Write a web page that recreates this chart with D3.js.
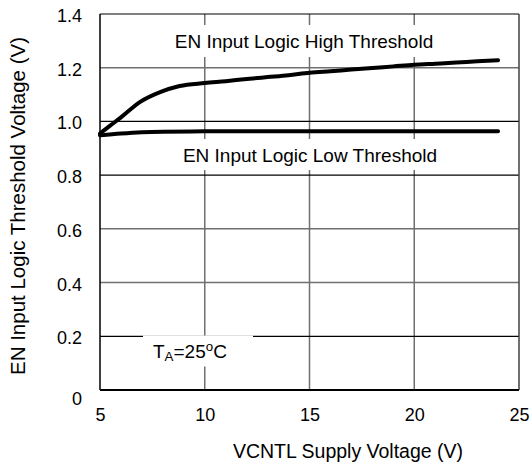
<!DOCTYPE html>
<html>
<head>
<meta charset="utf-8">
<script src="https://cdn.jsdelivr.net/npm/d3@7"></script>
<style>
  html, body { margin: 0; padding: 0; background: #fff; }
  svg { display: block; }
  text { font-family: "Liberation Sans", Arial, sans-serif; fill: #000; }
</style>
</head>
<body>
<svg id="chart" width="531" height="470"></svg>
<script>
// ---- data ----
const highV = [5, 5.5, 6, 6.9, 7.9, 8.8, 10, 11, 12, 13, 14, 15, 16, 17, 18, 19, 20, 21, 22, 23, 24];
const highThreshold = [0.955, 0.985, 1.015, 1.072, 1.11, 1.132, 1.143, 1.15, 1.158, 1.165, 1.172, 1.181, 1.187, 1.193, 1.199, 1.205, 1.211, 1.215, 1.219, 1.224, 1.228];
const lowV = [5, 6, 7, 8, 10, 12, 16, 20, 24];
const lowThreshold = [0.948, 0.955, 0.96, 0.962, 0.963, 0.963, 0.963, 0.963, 0.963];
const xTicks = [5, 10, 15, 20, 25];
const yTicks = [0, 0.2, 0.4, 0.6, 0.8, 1.0, 1.2, 1.4];
const yTickLabels = ["0", "0.2", "0.4", "0.6", "0.8", "1.0", "1.2", "1.4"];
const darkGridY = [0.2, 0.8, 1.0];

const W = 531, H = 470;
const margin = { left: 100, right: 12, top: 14, bottom: 80 };
const svg = d3.select("#chart");
const x = d3.scaleLinear().domain([5, 25]).range([margin.left, W - margin.right]);
const y = d3.scaleLinear().domain([0, 1.4]).range([H - margin.bottom, margin.top]);
const FS = 19;      // in-plot labels
const TFS = 18;     // tick labels

// gridlines
const grid = svg.append("g");
grid.selectAll("line.vg").data(xTicks.slice(1, -1)).join("line")
  .attr("x1", d => x(d)).attr("x2", d => x(d))
  .attr("y1", y(1.4)).attr("y2", y(0))
  .attr("stroke", "#707070").attr("stroke-width", 1.5);
grid.selectAll("line.hg").data(yTicks.slice(1, -1)).join("line")
  .attr("x1", x(5)).attr("x2", x(25))
  .attr("y1", d => y(d)).attr("y2", d => y(d))
  .attr("stroke", d => darkGridY.includes(d) ? "#000" : "#707070")
  .attr("stroke-width", d => darkGridY.includes(d) ? 1.2 : 1.5);

// label boxes (white, break the grid)
function boxedLabel(cx, baseline, txt, padL, padR, padT, padB) {
  const g = svg.append("g");
  const rect = g.append("rect").attr("fill", "#fff");
  const t = g.append("text").attr("x", cx).attr("y", baseline)
    .attr("text-anchor", "middle").attr("font-size", FS).text(txt);
  const bb = t.node().getBBox();
  rect.attr("x", bb.x - padL).attr("y", bb.y - padT)
    .attr("width", bb.width + padL + padR).attr("height", bb.height + padT + padB);
  return g;
}
boxedLabel(304, 48, "EN Input Logic High Threshold", 8, 8, 6, 5);
boxedLabel(310, 162, "EN Input Logic Low Threshold", 8, 8, 6, 4);

// T_A label
const taG = svg.append("g");
const taRect = taG.append("rect").attr("fill", "#fff");
const ta = taG.append("text").attr("x", 153).attr("y", 358).attr("font-size", FS);
ta.append("tspan").text("T");
ta.append("tspan").attr("font-size", FS * 0.7).attr("dy", 3).text("A");
ta.append("tspan").attr("dy", -3).text("=25");
ta.append("tspan").attr("font-size", FS * 0.7).attr("dy", -7).text("o");
ta.append("tspan").attr("dy", 7).text("C");
taRect.attr("x", 143).attr("y", 335.5).attr("width", 110).attr("height", 31);

// plot border
svg.append("line").attr("x1", x(5)).attr("x2", x(25)).attr("y1", y(1.4)).attr("y2", y(1.4)).attr("stroke", "#000").attr("stroke-width", 1.2);
svg.append("line").attr("x1", x(25)).attr("x2", x(25)).attr("y1", y(1.4)).attr("y2", y(0)).attr("stroke", "#404040").attr("stroke-width", 1.5);
svg.append("line").attr("x1", x(5)).attr("x2", x(5)).attr("y1", y(1.4)).attr("y2", y(0)).attr("stroke", "#000").attr("stroke-width", 1.5);
svg.append("line").attr("x1", x(5)).attr("x2", x(25)).attr("y1", y(0)).attr("y2", y(0)).attr("stroke", "#000").attr("stroke-width", 2);

// curves
const line = d3.line().x(d => x(d[0])).y(d => y(d[1])).curve(d3.curveMonotoneX);
svg.append("path").datum(highV.map((v, i) => [v, highThreshold[i]]))
  .attr("d", line).attr("fill", "none").attr("stroke", "#000")
  .attr("stroke-width", 4).attr("stroke-linecap", "round").attr("stroke-linejoin", "round");
svg.append("path").datum(lowV.map((v, i) => [v, lowThreshold[i]]))
  .attr("d", line).attr("fill", "none").attr("stroke", "#000")
  .attr("stroke-width", 4).attr("stroke-linecap", "round").attr("stroke-linejoin", "round");

// axes (labels only)
const xAxis = svg.append("g").attr("transform", `translate(0,${y(0)})`)
  .call(d3.axisBottom(x).tickValues(xTicks).tickSize(0).tickPadding(18).tickFormat(d3.format("d")));
xAxis.select(".domain").remove();
xAxis.selectAll("text").attr("font-size", TFS).attr("font-family", "Liberation Sans, Arial, sans-serif").attr("fill", "#000");

const yAxis = svg.append("g").attr("transform", `translate(${x(5)},0)`)
  .call(d3.axisLeft(y).tickValues(yTicks).tickSize(0).tickPadding(18).tickFormat((d, i) => yTickLabels[i]));
yAxis.select(".domain").remove();
yAxis.selectAll("text").attr("font-size", TFS).attr("font-family", "Liberation Sans, Arial, sans-serif").attr("fill", "#000")
  .attr("dy", d => d === 0 ? "0.8em" : "0.42em");

// axis titles
svg.append("text").attr("x", 348).attr("y", 458).attr("text-anchor", "middle")
  .attr("font-size", 19.5).text("VCNTL Supply Voltage (V)");
svg.append("text").attr("transform", "translate(25,206) rotate(-90)").attr("text-anchor", "middle")
  .attr("font-size", 20.5).text("EN Input Logic Threshold Voltage (V)");
</script>
</body>
</html>
